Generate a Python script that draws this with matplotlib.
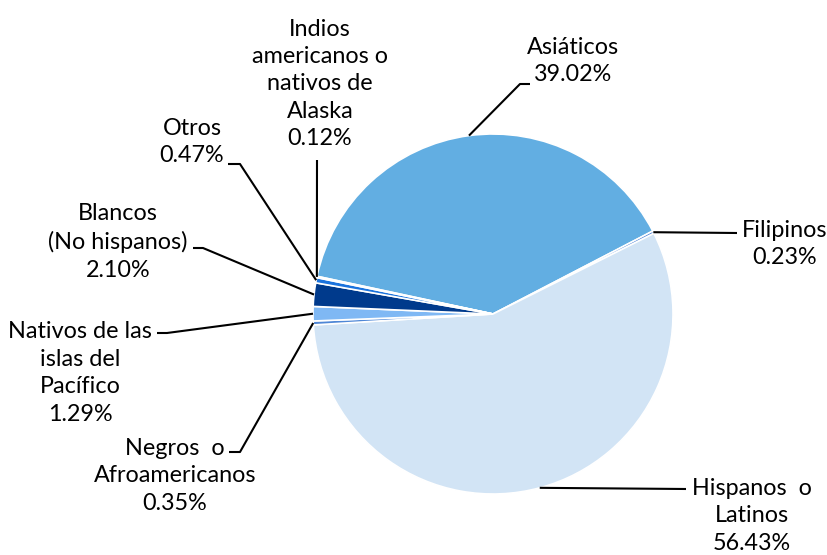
import matplotlib.pyplot as plt
import numpy as np

plt.rcParams['font.family'] = ['Lato', 'DejaVu Sans']

labels = ["Asiáticos", "Filipinos", "Hispanos  o\nLatinos", "Negros  o\nAfroamericanos",
          "Nativos de las\nislas del\nPacífico", "Blancos\n(No hispanos)", "Otros",
          "Indios\namericanos o\nnativos de\nAlaska"]
shares = [39.02, 0.23, 56.43, 0.35, 1.29, 2.10, 0.47, 0.12]
colors = ["#62AEE2", "#4A7FD4", "#D2E4F5", "#4F87D6", "#7FB8F4", "#003A8C", "#1B73DD", "#2E75B6"]

# label block centres (pixels from top-left) and elbow of leader line
label_pos = [(573, 61), (785, 244), (752, 516), (175, 476), (80, 373), (118, 242), (192, 142), (320, 84)]
elbows = [[(530, 84), (520, 84)], [(737, 233)], [(686, 489)], [(229, 452), (240, 452)],
          [(157, 333), (167, 333)], [(193, 248), (203, 248)], [(228, 164), (240, 164)], [(317, 160)]]

W, H = 827, 555
fig = plt.figure(figsize=(W / 100, H / 100), dpi=100)
ax = fig.add_axes([0, 0, 1, 1])

cx, cy, r = 493, H - 314, 180
wedges, _ = ax.pie(shares, colors=colors, startangle=167.9, counterclock=False,
                   center=(cx, cy), radius=r, frame=True,
                   wedgeprops=dict(edgecolor='white', linewidth=1.2))
ax.set_xlim(0, W)
ax.set_ylim(0, H)
ax.axis('off')

for w, lab, val, (tx, ty), elb in zip(wedges, labels, shares, label_pos, elbows):
    mid = np.deg2rad((w.theta1 + w.theta2) / 2)
    px, py = cx + r * np.cos(mid), cy + r * np.sin(mid)
    xs = [p[0] for p in elb] + [px]
    ys = [H - p[1] for p in elb] + [py]
    ax.plot(xs, ys, color='black', lw=1.5, solid_capstyle='butt')
    ax.text(tx, H - ty, f"{lab}\n{val:.2f}%", ha='center', va='center',
            fontsize=16.8, linespacing=1.38, color='black')

fig.savefig("out.png", dpi=100)
